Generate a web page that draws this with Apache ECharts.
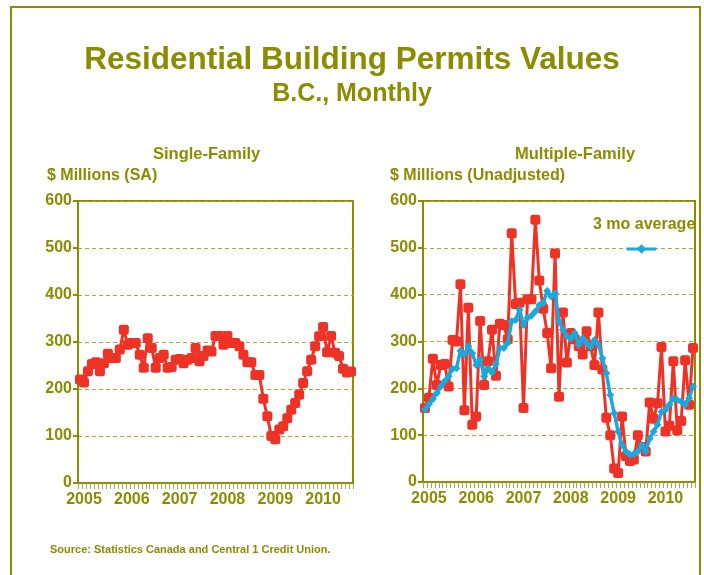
<!DOCTYPE html>
<html>
<head>
<meta charset="utf-8">
<script src="https://cdn.jsdelivr.net/npm/echarts@6/dist/echarts.min.js"></script>
<style>
  html, body { margin: 0; padding: 0; background: #fff; }
  #main { width: 704px; height: 575px; }
</style>
</head>
<body>
<div id="main"></div>
<script>
// monthly categories, Jan 2005 - Sep 2010
var months = [
  '2005-01','2005-02','2005-03','2005-04','2005-05','2005-06','2005-07','2005-08','2005-09','2005-10','2005-11','2005-12',
  '2006-01','2006-02','2006-03','2006-04','2006-05','2006-06','2006-07','2006-08','2006-09','2006-10','2006-11','2006-12',
  '2007-01','2007-02','2007-03','2007-04','2007-05','2007-06','2007-07','2007-08','2007-09','2007-10','2007-11','2007-12',
  '2008-01','2008-02','2008-03','2008-04','2008-05','2008-06','2008-07','2008-08','2008-09','2008-10','2008-11','2008-12',
  '2009-01','2009-02','2009-03','2009-04','2009-05','2009-06','2009-07','2009-08','2009-09','2009-10','2009-11','2009-12',
  '2010-01','2010-02','2010-03','2010-04','2010-05','2010-06','2010-07','2010-08','2010-09'
];
var yTicks = [0, 100, 200, 300, 400, 500, 600];

// $ millions, seasonally adjusted
var singleFamily = [
  220, 214, 238, 253, 257, 238, 255, 275, 266, 266, 284, 326,
  294, 298, 298, 273, 245, 308, 287, 245, 266, 273, 245, 247,
  262, 264, 255, 262, 266, 287, 259, 270, 282, 280, 313, 313,
  294, 313, 298, 298, 291, 273, 257, 257, 230, 230, 179, 142,
  100, 93, 114, 121, 138, 156, 170, 188, 213, 238, 262, 291,
  312, 332, 278, 313, 277, 270, 243, 235, 237
];

// $ millions, unadjusted
var multiFamily = [
  158, 180, 263, 207, 250, 252, 204, 303, 300, 422, 153, 372,
  122, 140, 344, 207, 258, 325, 227, 338, 335, 305, 531, 380,
  383, 158, 390, 390, 560, 430, 370, 318, 243, 488, 182, 362,
  255, 318, 305, 290, 272, 322, 290, 250, 362, 240, 137, 100,
  29, 19, 140, 55, 45, 48, 100, 75, 65, 170, 135, 168,
  288, 108, 120, 258, 110, 130, 260, 165, 286
];

var multiAvg = [
  155, 166, 177, 190, 204, 215, 226, 242, 243, 280, 272, 290,
  275, 250, 262, 226, 243, 234, 252, 286, 286, 297, 343, 346,
  368, 335, 350, 355, 364, 378, 382, 408, 396, 403, 343, 325,
  311, 307, 318, 293, 307, 296, 289, 303, 293, 264, 232, 186,
  147, 108, 79, 65, 58, 60, 65, 79, 65, 93, 108, 122,
  150, 154, 165, 179, 175, 172, 165, 179, 204
];

var olive = '#8c8c00';
var grid = '#a9a93c';
var red = '#ee3326';
var blue = '#19a9dd';
var narrow = "'Liberation Sans Narrow','Arial Narrow','Liberation Sans',Arial,sans-serif";
var sans = "'Liberation Sans',Arial,sans-serif";

var chart = echarts.init(document.getElementById('main'));

function xAxis(gi) {
  return {
    type: 'category',
    gridIndex: gi,
    data: months,
    boundaryGap: true,
    axisLine: { lineStyle: { color: olive, width: 2 } },
    axisTick: { show: true, interval: 0, length: 6, lineStyle: { color: '#a8a850', width: 1 } },
    axisLabel: {
      interval: function (i) { return i % 12 === 1; },
      formatter: function (v) { return v.slice(0, 4); },
      color: olive, fontWeight: 'bold', fontSize: 16, fontFamily: sans, margin: 9
    },
    splitLine: { show: false }
  };
}

function yAxis(gi) {
  return {
    type: 'value',
    gridIndex: gi,
    min: yTicks[0],
    max: yTicks[yTicks.length - 1],
    interval: 100,
    axisLine: { show: true, lineStyle: { color: olive, width: 2 } },
    axisTick: { show: true, length: 5, lineStyle: { color: olive, width: 2 } },
    axisLabel: { color: olive, fontWeight: 'bold', fontSize: 16, fontFamily: sans, margin: 6 },
    splitLine: { show: true, lineStyle: { color: grid, type: [4, 3], width: 1 } }
  };
}

function txt(text, left, top, size, font) {
  return {
    text: text, left: left, top: top, padding: 0,
    textStyle: { color: olive, fontWeight: 'bold', fontSize: size, fontFamily: font || narrow }
  };
}

var option = {
  animation: false,
  backgroundColor: '#fff',
  title: [
    txt('Residential Building Permits Values', 'center', 44, 31.5),
    txt('B.C., Monthly', 'center', 82, 25),
    txt('Single-Family', 153, 146, 16.5),
    txt('$ Millions (SA)', 47, 168, 16),
    txt('Multiple-Family', 515, 146, 16.5),
    txt('$ Millions (Unadjusted)', 390, 168, 16),
    txt('3 mo average', 593, 217, 16, sans),
    txt('Source: Statistics Canada and Central 1 Credit Union.', 50, 544, 11)
  ],
  legend: {
    data: ['3 mo average'],
    left: 620, top: 238,
    itemWidth: 30, itemHeight: 12,
    formatter: function () { return ''; },
    textStyle: { fontSize: 1 },
    lineStyle: { width: 3 },
    selectedMode: false
  },
  graphic: [{
    type: 'rect',
    shape: { x: 11, y: 7, width: 689, height: 620 },
    style: { fill: 'none', stroke: olive, lineWidth: 2 },
    silent: true
  }],
  grid: [
    { left: 78, top: 201, width: 275, height: 282, show: true, borderColor: olive, borderWidth: 2 },
    { left: 423, top: 201, width: 272, height: 281, show: true, borderColor: olive, borderWidth: 2 }
  ],
  xAxis: [xAxis(0), xAxis(1)],
  yAxis: [yAxis(0), yAxis(1)],
  series: [
    {
      name: 'Single-Family', type: 'line', xAxisIndex: 0, yAxisIndex: 0,
      data: singleFamily, symbol: 'roundRect', symbolSize: 10, showAllSymbol: true,
      itemStyle: { color: red }, lineStyle: { color: red, width: 3 }
    },
    {
      name: 'Multiple-Family', type: 'line', xAxisIndex: 1, yAxisIndex: 1,
      data: multiFamily, symbol: 'roundRect', symbolSize: 10, showAllSymbol: true,
      itemStyle: { color: red }, lineStyle: { color: red, width: 3 }
    },
    {
      name: '3 mo average', type: 'line', xAxisIndex: 1, yAxisIndex: 1,
      data: multiAvg, symbol: 'diamond', symbolSize: 8, showAllSymbol: true, z: 5,
      itemStyle: { color: blue }, lineStyle: { color: blue, width: 3.5 }
    }
  ]
};

chart.setOption(option);
</script>
</body>
</html>
